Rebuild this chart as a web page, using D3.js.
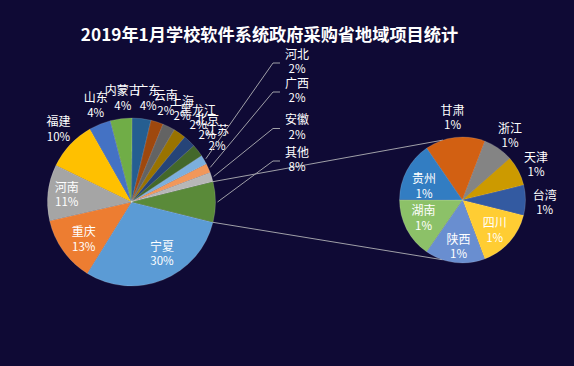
<!DOCTYPE html>
<html>
<head>
<meta charset="utf-8">
<script src="https://cdn.jsdelivr.net/npm/d3@7/dist/d3.min.js"></script>
<style>
  html, body { margin: 0; padding: 0; background: #0f0a35; }
  svg { display: block; }
  text { font-family: "Noto Sans CJK SC", "Noto Sans", sans-serif; }
</style>
</head>
<body>
<svg id="chart" width="574" height="366"></svg>
<script>
// ---------- data ----------
const title = "2019年1月学校软件系统政府采购省地域项目统计";
const mainNames  = ["宁夏","重庆","河南","福建","山东","内蒙古","广东","云南","上海","黑龙江","北京","江苏","河北","广西","安徽"];
const mainValues = [50, 21, 18, 16, 7, 7, 6, 4, 4, 4, 4, 4, 3, 3, 3];
const otherNames  = ["四川","陕西","湖南","贵州","甘肃","浙江","天津","台湾"];
const otherValues = [2, 2, 2, 2, 2, 1, 1, 1];
const otherLabel = "其他";
const palette = ["#5B9BD5","#ED7D31","#A5A5A5","#FFC000","#4472C4","#70AD47","#255E91","#9E480E",
                 "#636363","#997300","#264478","#43682B","#7CAFDD","#F1975A","#B7B7B7","#FFCD33",
                 "#698ED0","#8CC168","#327DC2","#D26012","#848484","#CC9A00","#335AA1","#5A8A39"];

// ---------- layout ----------
const W = 574, H = 366;
const c1 = {x: 131.5, y: 202, r: 84};
const c2 = {x: 462.5, y: 200, r: 63};
// label block centres relative to each pie centre
const mainLabelOffset = {
  "宁夏":[30.5,52], "重庆":[-47.8,37.5], "河南":[-64.8,-6.8], "福建":[-73,-72.5],
  "山东":[-35.8,-96.7], "内蒙古":[-8.7,-103.5], "广东":[16.7,-103.5], "云南":[34.3,-98.6],
  "上海":[50.5,-92.8], "黑龙江":[66.5,-84], "北京":[75.5,-74.5], "江苏":[85.5,-63.5]
};
const leaderLabels = {"河北":-140, "广西":-111, "安徽":-74.5, "其他":-42}; // block centre dy
const leaderLabelX = 165.5;
const secLabelOffset = {
  "甘肃":[-10,-82], "浙江":[47.5,-64.2], "天津":[73.5,-35], "台湾":[82.2,3],
  "四川":[32.2,30.5], "陕西":[-4,47], "湖南":[-39,18.4], "贵州":[-38.5,-13.7]
};
const lineGap = 14.5;

const svg = d3.select("#chart");
svg.append("rect").attr("width", W).attr("height", H).attr("fill", "#0f0a35");

svg.append("text").attr("x", 269.5).attr("y", 34.5).attr("dy", "0.35em")
  .attr("text-anchor", "middle").attr("fill", "#ffffff")
  .style("font-size", "17.2px").style("font-weight", "bold").text(title);

const otherSum = d3.sum(otherValues);
const total = d3.sum(mainValues) + otherSum;
const pct = v => Math.round(v / total * 100) + "%";
const rad = d => d * Math.PI / 180;

const mainData = mainNames.map((n, i) => ({name: n, v: mainValues[i], color: palette[i]}))
  .concat([{name: otherLabel, v: otherSum, color: palette[23]}]);
const otherAngle = 2 * Math.PI * otherSum / total;
const s1 = Math.PI / 2 + otherAngle / 2;
const pie1 = d3.pie().sort(null).value(d => d.v).startAngle(s1).endAngle(s1 + 2 * Math.PI);
const arcs1 = pie1(mainData);
const arc1 = d3.arc().innerRadius(0).outerRadius(c1.r);

const secData = otherNames.map((n, i) => ({name: n, v: otherValues[i], color: palette[15 + i]}));
const s2 = rad(104);
const pie2 = d3.pie().sort(null).value(d => d.v).startAngle(s2).endAngle(s2 + 2 * Math.PI);
const arcs2 = pie2(secData);
const arc2 = d3.arc().innerRadius(0).outerRadius(c2.r);

const polar = (c, a, r) => [c.x + r * Math.sin(a), c.y - r * Math.cos(a)];

// connector lines between the pies
const lineColor = "#a0a0a8";
const oArc = arcs1[arcs1.length - 1];
const connectors = [
  [polar(c1, oArc.startAngle, c1.r), polar(c2, rad(342), c2.r)],
  [polar(c1, oArc.endAngle, c1.r), polar(c2, rad(198.5), c2.r)]
];
svg.append("g").selectAll("line").data(connectors).join("line")
  .attr("x1", d => d[0][0]).attr("y1", d => d[0][1])
  .attr("x2", d => d[1][0]).attr("y2", d => d[1][1])
  .attr("stroke", lineColor).attr("stroke-width", 1);

// main pie
const g1 = svg.append("g").attr("transform", `translate(${c1.x},${c1.y})`);
g1.selectAll("path").data(arcs1).join("path")
  .attr("d", arc1).attr("fill", d => d.data.color)
  .attr("stroke", "rgba(255,255,255,0.25)").attr("stroke-width", 0.6);

// secondary pie
const g2 = svg.append("g").attr("transform", `translate(${c2.x},${c2.y})`);
g2.selectAll("path").data(arcs2).join("path")
  .attr("d", arc2).attr("fill", d => d.data.color)
  .attr("stroke", "rgba(255,255,255,0.25)").attr("stroke-width", 0.6);

function label(g, x, y, name, p) {
  const t = g.append("text").attr("text-anchor", "middle").attr("fill", "#ffffff")
    .style("font-size", "12px");
  t.append("tspan").attr("x", x).attr("y", y - lineGap / 2).attr("dy", "0.35em").text(name);
  t.append("tspan").attr("x", x).attr("y", y + lineGap / 2).attr("dy", "0.35em")
    .style("font-size", "11.5px").text(p);
}

// main labels
const lg1 = svg.append("g").attr("transform", `translate(${c1.x},${c1.y})`);
arcs1.forEach(d => {
  const n = d.data.name;
  if (mainLabelOffset[n]) {
    const o = mainLabelOffset[n];
    label(lg1, o[0], o[1], n, pct(d.data.v));
  } else if (leaderLabels[n] !== undefined) {
    const ly = leaderLabels[n];
    const mid = (d.startAngle + d.endAngle) / 2;
    const p0 = [ (c1.r + 2) * Math.sin(mid), -(c1.r + 2) * Math.cos(mid) ];
    const lineY = ly + 1;
    lg1.append("polyline")
      .attr("points", [p0, [leaderLabelX - 24, lineY], [leaderLabelX - 17, lineY]].map(p => p.join(",")).join(" "))
      .attr("fill", "none").attr("stroke", lineColor).attr("stroke-width", 1);
    label(lg1, leaderLabelX, ly, n, pct(d.data.v));
  }
});

// secondary labels
const lg2 = svg.append("g").attr("transform", `translate(${c2.x},${c2.y})`);
arcs2.forEach(d => {
  const o = secLabelOffset[d.data.name];
  label(lg2, o[0], o[1], d.data.name, pct(d.data.v));
});
</script>
</body>
</html>
